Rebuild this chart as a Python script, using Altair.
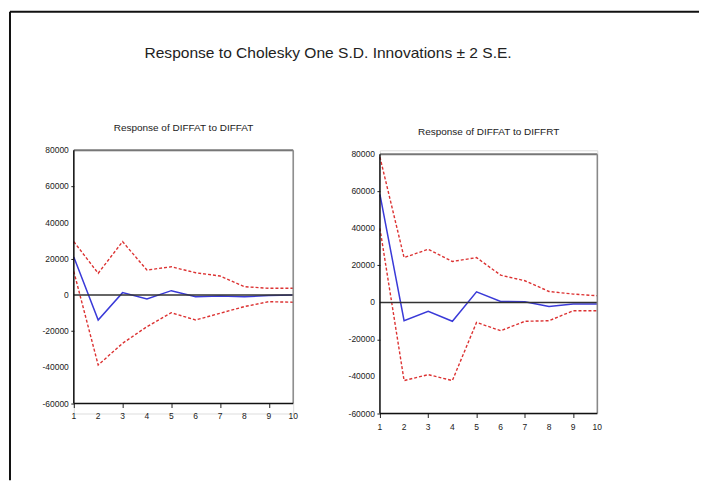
import altair as alt
import pandas as pd

periods = [1, 2, 3, 4, 5, 6, 7, 8, 9, 10]

# Response of DIFFAT to DIFFAT
l_resp = [21000, -13800, 1300, -2200, 2400, -1000, -500, -1000, -300, 0]
l_upper = [29500, 12000, 29500, 13800, 15600, 12300, 10500, 4600, 3700, 3700]
l_lower = [13000, -38700, -26700, -17500, -9800, -13800, -10100, -6400, -3700, -4000]

# Response of DIFFAT to DIFFRT
r_resp = [58300, -9900, -4800, -10200, 5700, 500, 400, -2200, -900, -900]
r_upper = [78500, 24200, 28700, 22100, 24200, 14700, 11700, 5900, 4500, 3600]
r_lower = [40000, -42200, -39000, -42200, -10800, -15300, -10200, -9900, -4500, -4500]

y_ticks = [-60000, -40000, -20000, 0, 20000, 40000, 60000, 80000]

main_title = "Response to Cholesky One S.D. Innovations \u00b1 2 S.E."
left_title = "Response of DIFFAT to DIFFAT"
right_title = "Response of DIFFAT to DIFFRT"

FONT = "Liberation Sans, Arial, sans-serif"
RED = "#dc3232"
BLUE = "#3a3ad8"

one = pd.DataFrame({"a": [0]})
xt = pd.DataFrame({"t": periods, "lab": [str(p) for p in periods]})
yt = pd.DataFrame({"v": y_ticks, "lab": [str(v) for v in y_ticks]})


def panel(resp, upper, lower, title, ydom, width, height, x_offset, xlab_y, title_y, extra=None):
    df = pd.DataFrame({
        "t": periods * 3,
        "v": resp + upper + lower,
        "s": ["resp"] * 10 + ["upper"] * 10 + ["lower"] * 10,
    })
    xs = alt.Scale(domain=[1, 10], nice=False, zero=False)
    ys = alt.Scale(domain=ydom, nice=False, zero=False)
    xaxis = alt.Axis(values=periods, title=None, grid=False, domain=False, labels=False,
                     tickSize=4, tickColor="#222", offset=x_offset)
    yaxis = alt.Axis(values=y_ticks, title=None, grid=False, domain=False, labels=False,
                     tickSize=3, tickColor="#222")

    bands = alt.Chart(df).transform_filter("datum.s != 'resp'").mark_line(
        color=RED, strokeDash=[3, 2], strokeWidth=1.4
    ).encode(x=alt.X("t:Q", scale=xs, axis=xaxis),
             y=alt.Y("v:Q", scale=ys, axis=yaxis), detail="s:N")
    line = alt.Chart(df).transform_filter("datum.s == 'resp'").mark_line(
        color=BLUE, strokeWidth=1.5
    ).encode(x="t:Q", y="v:Q")

    zero = alt.Chart(one).mark_rule(color="#333", strokeWidth=1.5).encode(
        x=alt.datum(1), x2=alt.datum(10), y=alt.datum(0))
    top = alt.Chart(one).mark_rule(color="#777", strokeWidth=2).encode(
        x=alt.datum(1), x2=alt.datum(10), y=alt.datum(80000))
    right = alt.Chart(one).mark_rule(color="#888", strokeWidth=1.5).encode(
        x=alt.datum(10), y=alt.datum(-60000), y2=alt.datum(80000))
    left = alt.Chart(one).mark_rule(color="#111", strokeWidth=1.5).encode(
        x=alt.datum(1), y=alt.datum(-60000), y2=alt.datum(80000))
    bottom = alt.Chart(one).mark_rule(color="#111", strokeWidth=1.5).encode(
        x=alt.datum(1), x2=alt.datum(10), y=alt.datum(-60000))
    ttl = alt.Chart(one).mark_text(
        text=title, font=FONT, fontSize=10, color="#222", align="center", baseline="alphabetic"
    ).encode(x=alt.value(width / 2), y=alt.value(title_y))
    xl = alt.Chart(xt).mark_text(
        font=FONT, fontSize=8.5, color="#222", align="center", baseline="middle"
    ).encode(x="t:Q", y=alt.value(xlab_y), text="lab:N")
    yl = alt.Chart(yt).mark_text(
        font=FONT, fontSize=8.5, color="#222", align="right", baseline="middle"
    ).encode(x=alt.value(-5), y="v:Q", text="lab:N")

    layers = [bands, line, zero, top, right, left, bottom, ttl, xl, yl]
    if extra:
        layers += extra
    return alt.layer(*layers).properties(width=width, height=height)


frame_top = alt.Chart(one).mark_rule(color="#111", strokeWidth=2).encode(
    x=alt.value(-64), x2=alt.value(627), y=alt.value(-139))
frame_left = alt.Chart(one).mark_rule(color="#111", strokeWidth=2).encode(
    x=alt.value(-64), y=alt.value(-139), y2=alt.value(331))
title_text = alt.Chart(one).mark_text(
    text=main_title, font=FONT, fontSize=15.6, color="#222", align="center", baseline="alphabetic"
).encode(x=alt.value(255), y=alt.value(-93))

left_chart = panel(l_resp, l_upper, l_lower, left_title, [-65512, 80000], 220, 264,
                   -10, 266, -19, extra=[frame_top, frame_left, title_text])
right_chart = panel(r_resp, r_upper, r_lower, right_title, [-60000, 82154], 218, 264,
                    0, 278, -15)

chart = alt.hconcat(left_chart, right_chart, spacing=87, bounds="flush").properties(
    padding={"left": 0, "top": 1, "right": 0, "bottom": 0}
).configure_view(stroke=None).configure(background="white")

chart.save("out.html", embed_options={"renderer": "svg", "actions": False})
